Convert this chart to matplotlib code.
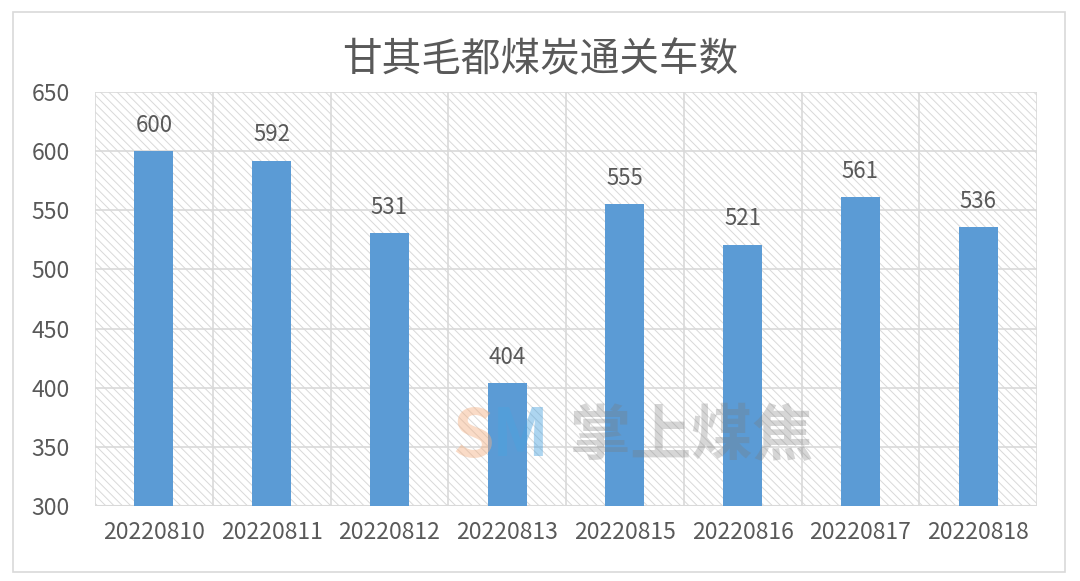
import numpy as np
import matplotlib.pyplot as plt
from matplotlib.patches import Rectangle

plt.rcParams['font.family'] = ['Noto Sans CJK SC', 'DejaVu Sans']
plt.rcParams['hatch.color'] = '#d6d6d6'
plt.rcParams['hatch.linewidth'] = 0.7

dates = ['20220810', '20220811', '20220812', '20220813',
         '20220815', '20220816', '20220817', '20220818']
trucks = [600, 592, 531, 404, 555, 521, 561, 536]

txt = '#595959'
grid = '#d9d9d9'

fig = plt.figure(figsize=(10.8, 5.81), dpi=100)
# outer chart border
fig.patches.append(Rectangle((13 / 1080, 1 - 572 / 581), 1052 / 1080, 560 / 581,
                             transform=fig.transFigure, fill=False,
                             edgecolor=grid, linewidth=1.2))

ax = fig.add_axes([95 / 1080, 1 - 506 / 581, 942 / 1080, 414 / 581])
x = np.arange(len(dates))
ax.set_xlim(-0.5, len(dates) - 0.5)
ax.set_ylim(300, 650)

# hatched background
ax.add_patch(Rectangle((0, 0), 1, 1, transform=ax.transAxes, facecolor='white',
                       hatch='\\\\\\\\', edgecolor=grid, linewidth=0, zorder=0))

for yv in range(350, 651, 50):
    ax.axhline(yv, color=grid, lw=1.2, zorder=1)
for xv in np.arange(-0.5, len(dates), 1):
    ax.axvline(xv, color=grid, lw=1.2, zorder=1)

ax.bar(x, np.array(trucks) - 300, bottom=300, width=0.33, color='#5b9bd5', zorder=3)
for xi, v in zip(x, trucks):
    ax.text(xi, v + 12, str(v), ha='center', va='bottom', fontsize=16, color=txt, zorder=4)

ax.set_xticks(x)
ax.set_xticklabels(dates)
ax.set_yticks(range(300, 651, 50))
ax.tick_params(length=0, labelsize=16.5, colors=txt, pad=11)
ax.tick_params(axis='y', pad=18)
for s in ax.spines.values():
    s.set_visible(False)
ax.axhline(300, color=grid, lw=1.5, zorder=2)

fig.text(0.5, 1 - 60 / 581, '甘其毛都煤炭通关车数', ha='center', va='center',
         fontsize=28.5, color=txt)

# watermark
fig.text(570 / 1080, 1 - 437 / 581, '掌上煤焦', ha='left', va='center',
         fontsize=44, color='#7a7a7a', alpha=0.3, fontweight='bold', zorder=5)
fig.text(452 / 1080, 1 - 437 / 581, 'S', ha='left', va='center',
         fontsize=48, color='#f4b183', alpha=0.45, fontweight='bold', zorder=5)
fig.text(492 / 1080, 1 - 437 / 581, 'M', ha='left', va='center',
         fontsize=48, color='#4aa3df', alpha=0.45, fontweight='bold', zorder=5)

fig.savefig('out.png', dpi=100)
